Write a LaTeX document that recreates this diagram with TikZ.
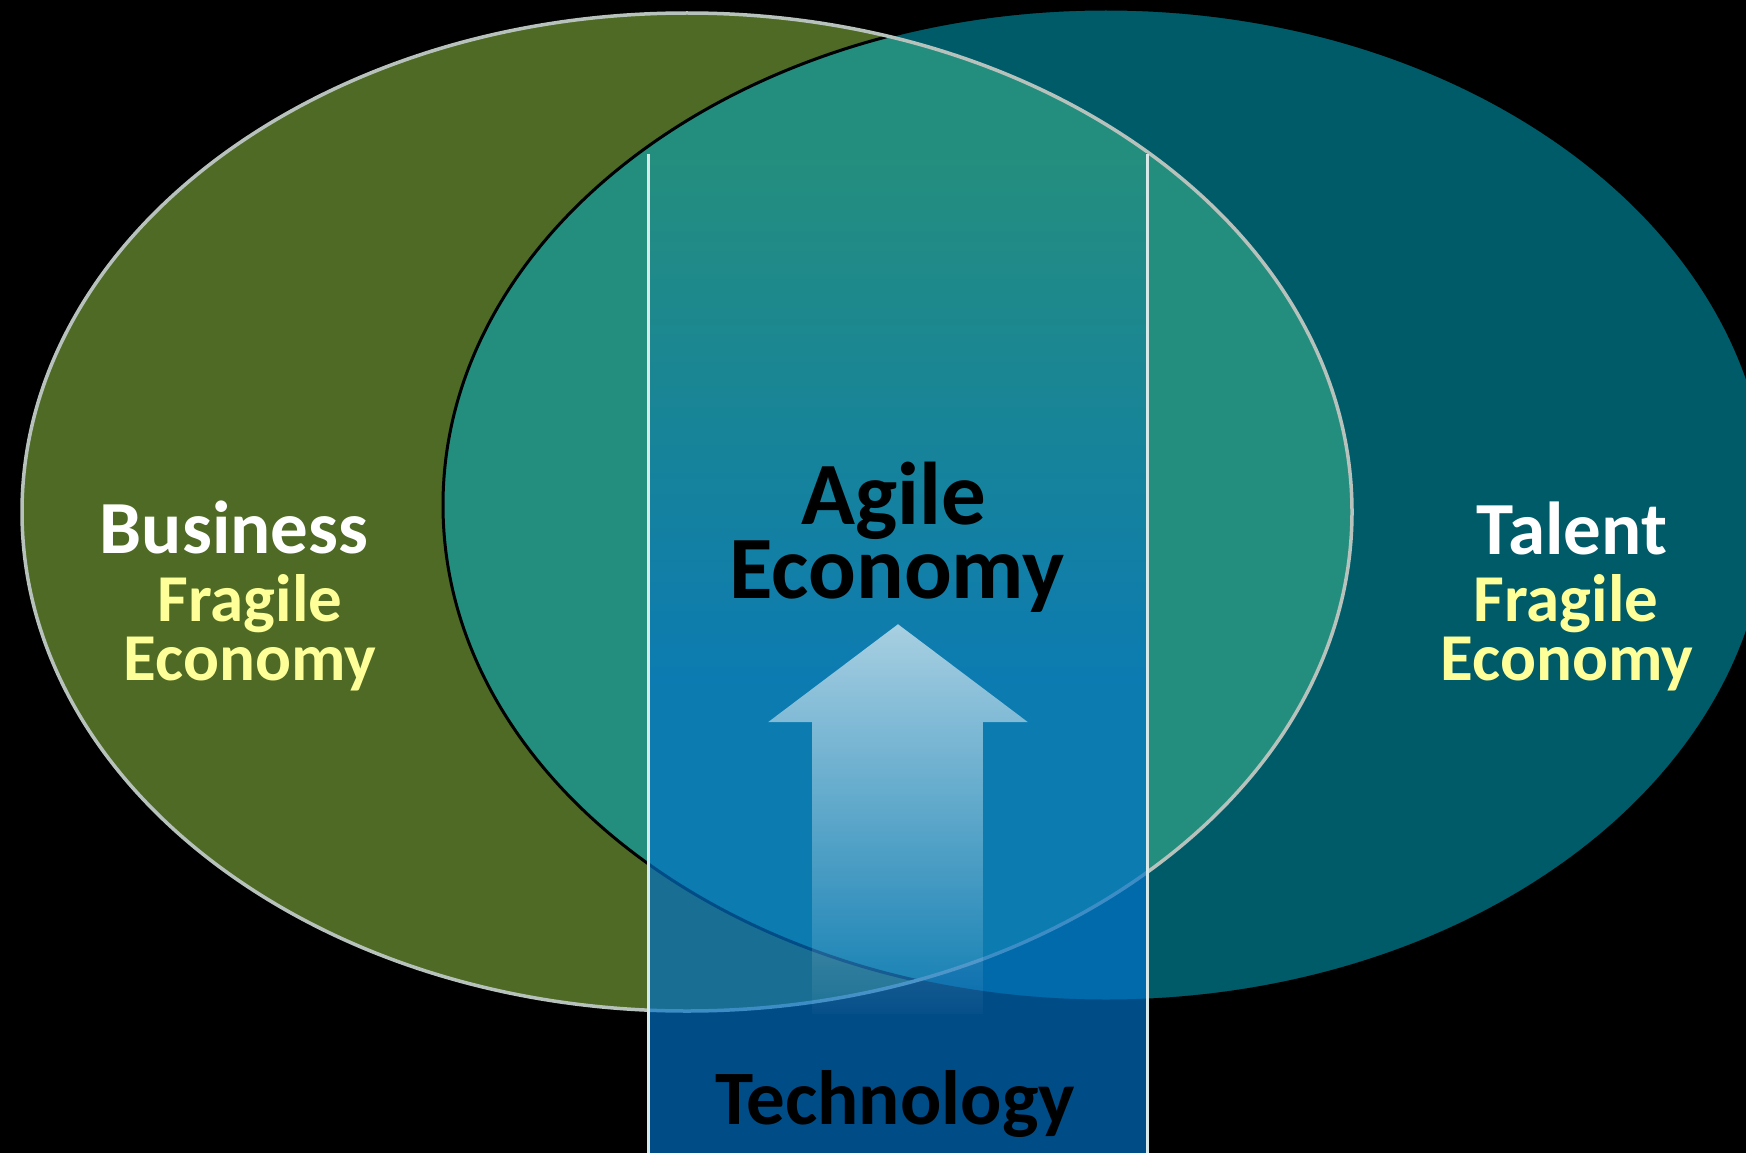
\documentclass[tikz,border=0pt]{standalone}
\usepackage{fontspec}
\setmainfont{Carlito}
\usetikzlibrary{fadings}
\definecolor{lgreen}{RGB}{78,106,36}
\definecolor{rteal}{RGB}{0,91,105}
\definecolor{midcol}{RGB}{36,142,126}
\definecolor{midband}{RGB}{12,123,177}
\definecolor{bandblue}{RGB}{0,114,202}
\definecolor{rimgray}{RGB}{184,194,188}
\definecolor{bandline}{RGB}{215,232,232}
\definecolor{fragyellow}{RGB}{255,255,153}
\tikzfading[name=arrowfade, top color=transparent!36, bottom color=transparent!98]
\tikzset{
  lbl/.style={inner sep=0pt, anchor=base, font=\bfseries},
  whitelbl/.style={lbl, text=white, font=\bfseries\fontsize{75}{80}\selectfont},
  yellowlbl/.style={lbl, text=fragyellow, font=\bfseries\fontsize{67}{72}\selectfont},
  biglbl/.style={lbl, text=black, font=\bfseries\fontsize{89}{94}\selectfont},
  techlbl/.style={lbl, text=black, font=\bfseries\fontsize{77}{82}\selectfont},
  leftell/.style={x radius=665, y radius=499},
  rightell/.style={x radius=663, y radius=496},
}
\begin{document}
\begin{tikzpicture}[x=1pt, y=-1pt]
\useasboundingbox (0,0) rectangle (1746,1153);
\clip (0,0) rectangle (1746,1153);
\fill[black] (0,0) rectangle (1746,1153);
% ellipses
\fill[lgreen] (687,512) ellipse [leftell];
\fill[rteal] (1106,505) ellipse [rightell];
\begin{scope}
  \clip (687,512) ellipse [leftell];
  \fill[midcol] (1106,505) ellipse [rightell];
\end{scope}
\draw[black, line width=3pt] (1106,505) ellipse [rightell];
\draw[rimgray, line width=3.5pt] (687,512) ellipse [leftell];
% technology band
\begin{scope}
  \clip (687,512) ellipse [leftell];
  \clip (1106,505) ellipse [rightell];
  \shade[top color=midcol, bottom color=midband, shading angle=0] (648,154) rectangle (1147,680);
\end{scope}
\fill[bandblue, fill opacity=0.67] (648,680) rectangle (1147,1160);
\fill[midband] (648,676) rectangle (1147,684);
\coordinate (bl1) at (648,154);
\coordinate (bl2) at (648,1160);
\coordinate (br1) at (1147,154);
\coordinate (br2) at (1147,1160);
\draw[bandline, line width=3pt] (bl1) -- (bl2);
\draw[bandline, line width=3pt] (br1) -- (br2);
% arrow
\fill[white, path fading=arrowfade] (898,624) -- (1028,722) -- (983,722) -- (983,1014)
  -- (812,1014) -- (812,722) -- (768,722) -- cycle;
% labels
\node[whitelbl] (business) at (234,553) {Business};
\node[yellowlbl] (fragL) at (250,621) {Fragile};
\node[yellowlbl] (econL) at (250,680) {Economy};
\node[biglbl] (agile) at (894,524) {Agile};
\node[biglbl] (econC) at (897,598) {Economy};
\node[whitelbl] (talent) at (1572,554) {Talent};
\node[yellowlbl] (fragR) at (1566,621) {Fragile};
\node[yellowlbl] (econR) at (1567,680) {Economy};
\node[techlbl] (tech) at (895,1124) {Technology};
\end{tikzpicture}
\end{document}
